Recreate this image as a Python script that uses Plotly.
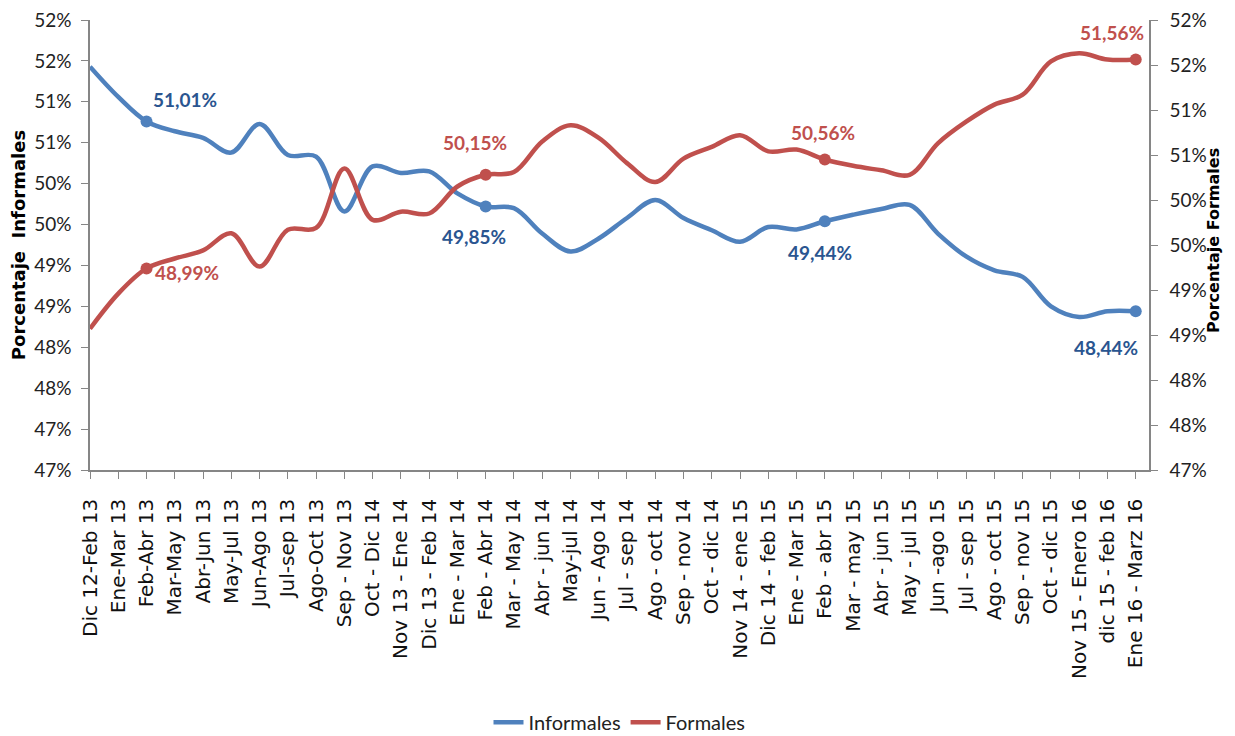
import plotly.graph_objects as go

periodos = [
    "Dic 12-Feb 13", "Ene-Mar 13", "Feb-Abr 13", "Mar-May 13", "Abr-Jun 13",
    "May-Jul 13", "Jun-Ago 13", "Jul-sep 13", "Ago-Oct 13", "Sep - Nov 13",
    "Oct - Dic 14", "Nov 13 - Ene 14", "Dic 13 - Feb 14", "Ene - Mar 14",
    "Feb - Abr 14", "Mar - May 14", "Abr - jun 14", "May-jul 14",
    "Jun - Ago 14", "Jul - sep 14", "Ago - oct 14", "Sep - nov 14",
    "Oct - dic 14", "Nov 14 - ene 15", "Dic 14 - feb 15", "Ene - Mar 15",
    "Feb - abr 15", "Mar - may 15", "Abr - jun 15", "May - jul 15",
    "Jun -ago 15", "Jul - sep 15", "Ago - oct 15", "Sep - nov 15",
    "Oct - dic 15", "Nov 15 - Enero 16", "dic 15 - feb 16", "Ene 16 - Marz 16",
]

# valores (eje izquierdo / derecho)
informales = [
    51.43, 51.06, 50.76, 50.64, 50.56, 50.38, 50.73, 50.35, 50.33, 49.66,
    50.21, 50.13, 50.15, 49.88, 49.72, 49.70, 49.39, 49.17, 49.33, 49.58,
    49.80, 49.58, 49.43, 49.29, 49.47, 49.44, 49.54, 49.62, 49.69, 49.74,
    49.39, 49.11, 48.94, 48.86, 48.50, 48.37, 48.44, 48.44,
]
formales = [
    48.57, 48.96, 49.24, 49.35, 49.44, 49.63, 49.26, 49.67, 49.69, 50.35,
    49.78, 49.87, 49.85, 50.15, 50.28, 50.31, 50.65, 50.83, 50.69, 50.41,
    50.20, 50.46, 50.59, 50.72, 50.54, 50.56, 50.45, 50.38, 50.33, 50.28,
    50.63, 50.87, 51.06, 51.17, 51.54, 51.63, 51.56, 51.56,
]

# puntos con etiqueta
idx_etiquetas = [2, 14, 26, 37]
etq_informales = ["51,01%", "49,85%", "49,44%", "48,44%"]
etq_formales = ["48,99%", "50,15%", "50,56%", "51,56%"]

ticks_izq = [46.5 + 0.5 * k for k in range(12)]
ticks_izq_txt = ["47%", "47%", "48%", "48%", "49%", "49%", "50%", "50%",
                 "51%", "51%", "52%", "52%"]
ticks_der = [47 + 0.5 * k for k in range(11)]
ticks_der_txt = ["47%", "48%", "48%", "49%", "49%", "50%", "50%", "51%",
                 "51%", "52%", "52%"]

AZUL = "#4F81BD"
ROJO = "#C0504D"
AZUL_TXT = "#2A5590"

fig = go.Figure()
fig.add_trace(go.Scatter(x=periodos, y=informales, name="Informales", mode="lines",
                         line=dict(color=AZUL, width=4.5, shape="spline", smoothing=1)))
fig.add_trace(go.Scatter(x=periodos, y=formales, name="Formales", mode="lines",
                         line=dict(color=ROJO, width=4.5, shape="spline", smoothing=1),
                         yaxis="y2"))

# marcadores de los puntos etiquetados
fig.add_trace(go.Scatter(x=[periodos[i] for i in idx_etiquetas],
                         y=[informales[i] for i in idx_etiquetas],
                         mode="markers", marker=dict(color=AZUL, size=12),
                         showlegend=False, hoverinfo="skip"))
fig.add_trace(go.Scatter(x=[periodos[i] for i in idx_etiquetas],
                         y=[formales[i] for i in idx_etiquetas],
                         mode="markers", marker=dict(color=ROJO, size=12),
                         showlegend=False, hoverinfo="skip", yaxis="y2"))

shift_inf = [(38, 22), (-12, -30), (-5, -31), (-30, -36)]
shift_for = [(40, -4), (-11, 32), (-2, 27), (-24, 27)]
for k, i in enumerate(idx_etiquetas):
    fig.add_annotation(x=periodos[i], y=informales[i], yref="y", text=etq_informales[k],
                       showarrow=False, xshift=shift_inf[k][0], yshift=shift_inf[k][1],
                       font=dict(family="Lato", size=19, color=AZUL_TXT, weight="bold"))
    fig.add_annotation(x=periodos[i], y=formales[i], yref="y2", text=etq_formales[k],
                       showarrow=False, xshift=shift_for[k][0], yshift=shift_for[k][1],
                       font=dict(family="Lato", size=19, color=ROJO, weight="bold"))

# titulo del eje derecho
fig.add_annotation(xref="paper", yref="paper", x=1, y=0.5, xanchor="center",
                   xshift=64, yshift=4, textangle=-90, showarrow=False,
                   text="Porcentaje Formales",
                   font=dict(family="DejaVu Sans", size=16, color="#000", weight="bold"))

eje = dict(showline=True, linecolor="#868686", linewidth=1.5, ticks="outside",
           ticklen=7, tickcolor="#868686", showgrid=False, zeroline=False,
           automargin=False, ticklabeloverflow="allow")

# la pagina tiene 8 px de margen en el body: figura un poco menor y desplazada
fig.update_layout(
    width=1227, height=728,
    margin=dict(l=82, r=86, t=12, b=266),
    plot_bgcolor="white", paper_bgcolor="white",
    font=dict(family="Lato", size=19, color="#222"),
    xaxis=dict(**eje, type="category", range=[0, 37.47], tickangle=-90,
               ticklabelstandoff=12,
               tickfont=dict(family="DejaVu Sans", size=20, color="#111")),
    yaxis=dict(**eje, range=[46.5, 52.0], tickvals=ticks_izq, ticktext=ticks_izq_txt,
               ticklabelstandoff=6,
               title=dict(text="Porcentaje  Informales", standoff=8,
                          font=dict(family="DejaVu Sans", size=18, color="#000", weight="bold"))),
    yaxis2=dict(**eje, range=[47.0, 52.0], tickvals=ticks_der, ticktext=ticks_der_txt,
                overlaying="y", side="right", ticklabelstandoff=8),
    legend=dict(orientation="h", x=0.5, xanchor="center", yref="container",
                y=0.019, yanchor="middle",
                font=dict(family="Lato", size=20, color="#222"), traceorder="normal"),
    showlegend=True,
)

fig.write_html("out.html")
